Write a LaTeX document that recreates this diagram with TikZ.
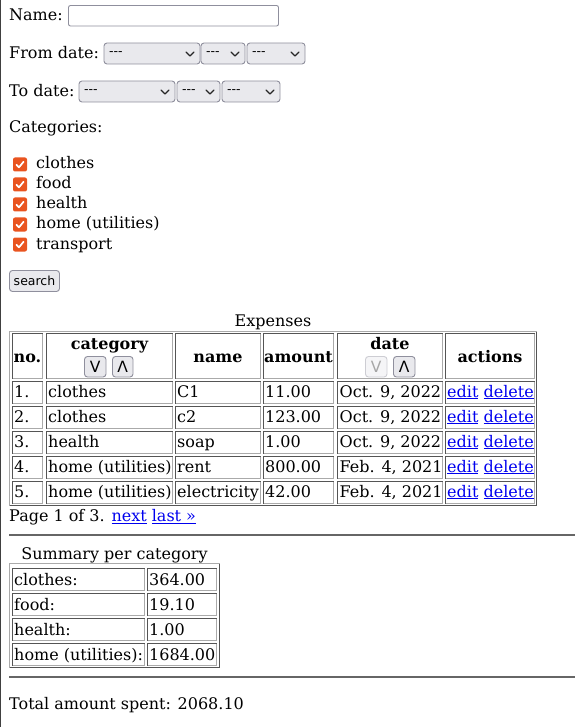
\documentclass[tikz,border=0pt]{standalone}
\usepackage{fontspec}
\setmainfont{DejaVu Serif}
\newfontfamily\uifont{DejaVu Sans}
\definecolor{linkblue}{HTML}{0000EE}
\definecolor{boxorange}{HTML}{E95420}
\definecolor{ctrlfill}{HTML}{E9E9ED}
\definecolor{ctrlline}{HTML}{8F8F9D}
\definecolor{edgedark}{HTML}{555555}
\definecolor{edgelight}{HTML}{AAAAAA}
\tikzset{
  txt/.style={inner sep=0pt, anchor=base west, font=\fontsize{16}{19}\selectfont},
  thead/.style={inner sep=0pt, anchor=base, font=\fontsize{16}{19}\selectfont\bfseries},
  ui/.style={inner sep=0pt, font=\uifont\fontsize{12.5}{15}\selectfont},
  sortglyph/.style={inner sep=0pt, font=\uifont\fontsize{15.5}{17}\selectfont},
  ctrl/.style={draw=ctrlline, fill=ctrlfill, rounded corners=3pt, line width=0.9pt},
  chevron/.style={draw=black!85, line width=1.3pt, line cap=round, line join=round},
  chk/.style={fill=boxorange, rounded corners=2pt, minimum size=14pt, inner sep=0pt},
  tick/.style={draw=white, line width=1.7pt, line cap=round, line join=round},
  edgedk/.style={draw=edgedark, line width=1pt},
  edgelt/.style={draw=edgelight, line width=1pt},
  hrule/.style={draw=black!60, line width=1.4pt}
}
\newcommand{\lnk}[1]{\textcolor{linkblue}{\underline{#1}}}
% inset frame of a cell: dark top/left, light bottom/right
\newcommand{\cellframe}[4]{%
  \draw[edgelt] (#3-0.5,#2+0.5) -- (#3-0.5,#4-0.5) -- (#1+0.5,#4-0.5);
  \draw[edgedk] (#1+0.5,#4-0.5) -- (#1+0.5,#2+0.5) -- (#3-0.5,#2+0.5);}
% outset frame of a table: light top/left, dark bottom/right
\newcommand{\tableframe}[4]{%
  \draw[edgedk] (#3-0.5,#2+0.5) -- (#3-0.5,#4-0.5) -- (#1+0.5,#4-0.5);
  \draw[edgelt] (#1+0.5,#4-0.5) -- (#1+0.5,#2+0.5) -- (#3-0.5,#2+0.5);}
% select box with dashes and chevron
\newcommand{\selectbox}[4]{%
  \draw[ctrl] (#2,#3) rectangle (#4,#3+21);
  \node[ui, anchor=west] (#1) at (#2+5,#3+10.5) {-{}-{}-};
  \draw[chevron] (#4-14,#3+9) -- (#4-10,#3+13) -- (#4-6,#3+9);}
\begin{document}
\begin{tikzpicture}[x=1pt,y=-1pt]
\useasboundingbox (0,0) rectangle (575,727);
\draw[line width=1.4pt, black!75] (0.7,0) -- (0.7,727);

% search form
\node[txt] (name) at (9,21) {Name:};
\draw[ctrl, fill=white, rounded corners=2pt] (68.5,5.5) rectangle (278.5,26);
\node[txt] (from) at (9,59) {From date:};
\selectbox{fromday}{104}{43}{200}
\selectbox{frommonth}{201}{43}{245}
\selectbox{fromyear}{247}{43}{305}
\node[txt] (to) at (9,97) {To date:};
\selectbox{today}{79}{81}{175}
\selectbox{tomonth}{177}{81}{220}
\selectbox{toyear}{222}{81}{280}
\node[txt] (cats) at (9,133) {Categories:};
\foreach \c [count=\k from 0] in {clothes,food,health,home (utilities),transport}{
  \node[chk] (box\k) at (20,164.5+20*\k) {};
  \draw[tick] (box\k.center) ++(-3.6,0.2) -- ++(2.6,2.6) -- ++(4.6,-5.6);
  \node[txt] (cat\k) at (36,169+20*\k) {\c};
}
\draw[ctrl] (9.5,270.5) rectangle (59.5,291.5);
\node[ui] (search) at (34.5,281) {search};

% expenses table
\node[txt, anchor=base] (caption) at (273,326) {Expenses};
\tableframe{9}{331}{537}{506}
\foreach \xa/\xb in {12/43,46/173,175/261,263/334,337/443,445/535}{
  \cellframe{\xa}{333}{\xb}{379}
  \foreach \ya in {381,406,431,456,481}{
    \cellframe{\xa}{\ya}{\xb}{\ya+23}
  }
}
\node[thead] (hno) at (27.5,362) {no.};
\node[thead] (hcat) at (109.5,349.5) {category};
\node[thead] (hname) at (218,362) {name};
\node[thead] (hamt) at (298.5,362) {amount};
\node[thead] (hdate) at (390,349.5) {date};
\node[thead] (hact) at (490,362) {actions};
\draw[ctrl] (84.5,356.5) rectangle (106,377);
\node[sortglyph] (catdown) at (95.25,366.5) {V};
\draw[ctrl] (112.5,356.5) rectangle (133,377);
\node[sortglyph] (catup) at (122.75,366.5) {Λ};
\draw[ctrl, draw=ctrlline!45, fill=ctrlfill!45] (365.5,356.5) rectangle (387,377);
\node[sortglyph, text=black!35] (datedown) at (376.25,366.5) {V};
\draw[ctrl] (393.5,356.5) rectangle (415,377);
\node[sortglyph] (dateup) at (404.25,366.5) {Λ};
\foreach \n/\cat/\nm/\amt/\dt [count=\row from 0] in
  {1./clothes/C1/11.00/{Oct. 9, 2022},
   2./clothes/c2/123.00/{Oct. 9, 2022},
   3./health/soap/1.00/{Oct. 9, 2022},
   4./home (utilities)/rent/800.00/{Feb. 4, 2021},
   5./home (utilities)/electricity/42.00/{Feb. 4, 2021}}{
  \node[txt] (no\row) at (14,397+25*\row) {\n};
  \node[txt] (c\row) at (48,397+25*\row) {\cat};
  \node[txt] (nm\row) at (177,397+25*\row) {\nm};
  \node[txt] (amt\row) at (265,397+25*\row) {\amt};
  \node[txt] (dt\row) at (339.5,397+25*\row) {\dt};
  \node[txt] (act\row) at (447,397+25*\row) {\lnk{edit} \lnk{delete}};
}
\node[txt] (pages) at (9,521.5) {Page 1 of 3. \lnk{next} \lnk{last »}};
\draw[hrule] (9,535) -- (575,535);

% summary table
\node[txt, anchor=base] (sumcap) at (114.5,559) {Summary per category};
\tableframe{9}{563}{220}{668}
\foreach \ya in {568,593,618,643}{
  \cellframe{12}{\ya}{145}{\ya+23}
  \cellframe{147}{\ya}{217}{\ya+23}
}
\foreach \cat/\amt [count=\row from 0] in
  {clothes:/364.00, food:/19.10, health:/1.00, home (utilities):/1684.00}{
  \node[txt] (s\row) at (14,585+25*\row) {\cat};
  \node[txt] (sa\row) at (149,585+25*\row) {\amt};
}
\draw[hrule] (9,677) -- (575,677);
\node[txt] (total) at (9,709) {Total amount spent: 2068.10};
\end{tikzpicture}
\end{document}
